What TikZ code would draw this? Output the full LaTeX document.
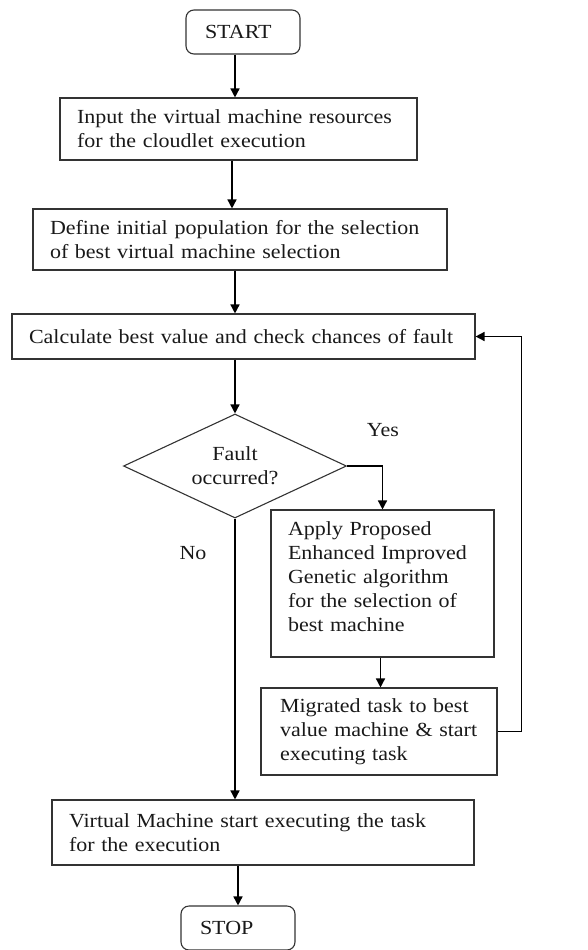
\documentclass[tikz,border=0pt]{standalone}
\usepackage{fontspec}
\setmainfont{Liberation Serif}[FakeStretch=1.1]
\usetikzlibrary{arrows.meta,shapes.geometric,calc}
\begin{document}
\begin{tikzpicture}[x=1pt,y=-1pt,
  every node/.style={font=\fontsize{20}{24}\selectfont, text=black!90},
  pbox/.style={draw=black!80, line width=1.1pt, align=left, inner xsep=17pt, inner ysep=0pt},
  term/.style={draw=black!80, line width=1.1pt, rounded corners=8pt, inner xsep=19pt, inner ysep=0pt, text width=76pt, align=left},
  arr/.style={line width=1.5pt, -{Triangle[length=9pt,width=9pt]}}
]
\useasboundingbox (0,0) rectangle (588,950);
\node[term, minimum width=114pt, minimum height=44pt] (start) at (243,32) {START};
\node[pbox, minimum width=357pt, minimum height=62pt, text width=323pt] (b1) at (238.5,129)
  {Input the virtual machine resources\\for the cloudlet execution};
\node[pbox, minimum width=414pt, minimum height=61pt, text width=380pt] (b2) at (240,239.5)
  {Define initial population for the selection\\of best virtual machine selection};
\node[pbox, minimum width=463pt, minimum height=45pt, text width=429pt] (b3) at (243.5,336.5)
  {Calculate best value and check chances of fault};
\node[draw=black!80, line width=1.1pt, diamond, aspect=2, minimum width=223pt, minimum height=104pt, inner sep=0pt, align=center] (dia) at (235,466)
  {Fault\\occurred?};
\node[pbox, minimum width=223pt, minimum height=147pt, text width=189pt] (app) at (382.5,583.5)
  {Apply Proposed\\Enhanced Improved\\Genetic algorithm\\for the selection of\\best machine\\[-10pt]\mbox{}};
\node[pbox, inner xsep=19pt, minimum width=236pt, minimum height=87pt, text width=198pt] (mig) at (379,731.5)
  {Migrated task to best\\value machine \& start\\executing task};
\node[pbox, minimum width=422pt, minimum height=65pt, text width=388pt] (vm) at (263,832.5)
  {Virtual Machine start executing the task\\for the execution};
\node[term, minimum width=114pt, minimum height=44pt] (stop) at (238,928) {STOP};
\node (yes) at (383,430) {Yes};
\node (no) at (193,553) {No};
% connectors
\draw[arr] ([xshift=-8pt]start.south) -- ([xshift=-8pt]start.south |- b1.north);
\draw[arr] ([xshift=-6.5pt]b1.south) -- ([xshift=-6.5pt]b1.south |- b2.north);
\draw[arr] (dia.north |- b2.south) -- (dia.north |- b3.north);
\draw[arr] (dia.north |- b3.south) -- (dia.north);
\draw[arr] (dia.east) -| (app.north);
\draw[arr] ([xshift=-2pt]app.south) -- ([xshift=-2pt]app.south |- mig.north);
\draw[arr] (mig.east) -- ++(24,0) |- (b3.east);
\draw[arr] (dia.south) -- (dia.south |- vm.north);
\draw[arr] (vm.south -| stop.north) -- (stop.north);
\end{tikzpicture}
\end{document}
